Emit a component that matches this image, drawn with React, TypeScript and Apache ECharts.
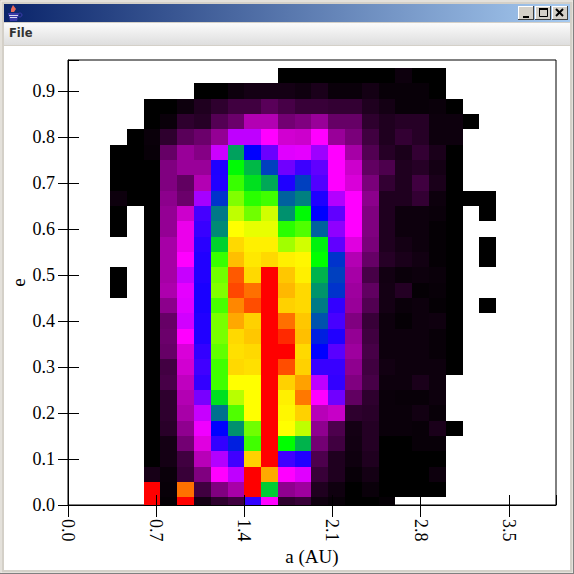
import React, { useEffect, useRef } from "react";
import * as echarts from "echarts";

const N = null;
// Color level per cell: 0 black, 100 magenta, 200 blue, 300 green, 400 yellow, 500 red.
// Columns: a-bin 3..25; rows: e-bin 0..28
const firstColumn = 3;
const binA = 4 / 30;
const binE = 1 / 30;
const xTicks = 0.7;
const yTicks = 0.1;
const xMax = 3.875;
const yMax = 0.967;
const paletteColors = ["#000000", "#ff00ff", "#0000ff", "#00ff00", "#ffff00", "#ff0000"];

const row00 = [N,N,500,2,500,8,18,25,180,100,18,22,6,3,0,0,2,N,N,N,N,N,N];
const row01 = [N,N,500,3,456,25,50,66,500,280,56,62,12,6,0,4,0,0,0,0,N,N,N];
const row02 = [N,N,9,4,22,50,100,125,500,434,100,112,22,12,3,8,0,0,0,5,N,N,N];
const row03 = [N,N,0,8,25,72,130,175,418,500,175,187,30,12,6,12,0,0,0,0,N,N,N];
const row04 = [N,N,0,8,45,88,180,212,325,500,300,270,45,25,7,14,0,0,3,3,N,N,N];
const row05 = [N,N,0,16,56,106,200,257,344,500,400,375,56,30,8,14,4,4,3,10,0,N,N];
const row06 = [N,N,0,18,66,122,244,331,400,500,403,418,72,78,18,16,4,4,7,3,N,N,N];
const row07 = [N,N,0,18,70,153,288,372,400,500,406,453,100,156,38,18,4,3,3,5,N,N,N];
const row08 = [N,N,0,28,75,180,325,400,400,500,418,437,125,180,50,28,5,5,10,5,N,N,N];
const row09 = [N,N,0,26,82,175,325,415,412,500,470,418,178,178,56,25,7,5,5,5,0,N,N];
const row10 = [N,N,0,40,85,180,338,412,415,500,500,415,200,165,62,28,5,5,5,3,0,N,N];
const row11 = [N,N,0,42,100,187,347,415,422,500,484,425,212,187,58,25,5,5,5,3,0,N,N];
const row12 = [N,N,0,40,118,187,347,434,418,500,456,422,232,172,50,22,5,2,5,6,0,N,N];
const row13 = [N,N,0,55,112,190,328,447,470,500,418,415,248,180,60,32,8,4,5,2,0,N,0];
const row14 = [0,N,0,68,110,190,350,472,456,500,428,415,258,220,62,38,8,14,2,3,0,N,N];
const row15 = [0,N,0,65,122,187,344,465,415,500,422,406,270,225,65,28,7,4,5,4,0,N,N];
const row16 = [N,N,0,65,100,187,322,425,409,415,406,403,300,220,70,40,15,10,7,2,0,N,0];
const row17 = [N,N,0,65,92,184,282,415,406,406,363,382,295,162,88,48,12,8,5,2,0,N,0];
const row18 = [0,N,0,58,92,178,254,400,391,391,316,331,238,144,100,50,12,5,5,2,0,N,N];
const row19 = [0,N,0,58,80,173,247,375,344,382,257,298,200,162,100,50,12,5,5,4,0,N,0];
const row20 = [5,0,0,55,42,135,220,350,316,325,238,250,188,130,100,55,12,12,20,5,0,0,0];
const row21 = [0,0,0,50,38,70,187,322,288,266,188,225,168,100,85,48,20,12,25,10,0,N,N];
const row22 = [0,0,0,50,60,60,188,298,272,225,156,176,162,100,80,38,30,12,15,8,0,N,N];
const row23 = [0,0,3,40,60,52,120,263,200,158,112,110,138,100,65,32,15,10,20,10,0,N,N];
const row24 = [N,0,4,18,35,42,58,125,125,100,82,80,100,60,48,25,12,20,15,5,5,N,N];
const row25 = [N,N,0,4,18,15,33,42,70,70,45,50,60,40,40,18,12,15,15,5,5,0,N];
const row26 = [N,N,0,0,5,12,18,25,25,35,28,22,22,20,20,12,8,3,3,4,0,N,N];
const row27 = [N,N,N,N,N,0,0,5,8,8,8,6,10,4,4,8,3,3,3,0,N,N,N];
const row28 = [N,N,N,N,N,N,N,N,N,N,0,0,0,0,0,0,0,5,0,0,N,N,N];

const rows = [
  row00,row01,row02,row03,row04,row05,row06,row07,row08,row09,
  row10,row11,row12,row13,row14,row15,row16,row17,row18,row19,
  row20,row21,row22,row23,row24,row25,row26,row27,row28,
];

const cells: number[][] = [];
rows.forEach((r, j) =>
  r.forEach((v, i) => {
    if (v !== null) cells.push([(i + firstColumn) * binA, j * binE, v as number]);
  })
);

const SERIF = "'Liberation Serif', serif";
const frame = "#d4d0c8";

function chrome() {
  const btn = (x: number, w: number) => [
    { type: "rect", shape: { x, y: 6, width: w, height: 14 }, style: { fill: "#404040" } },
    { type: "rect", shape: { x, y: 6, width: w - 1, height: 13 }, style: { fill: "#ffffff" } },
    { type: "rect", shape: { x: x + 1, y: 7, width: w - 2, height: 12 }, style: { fill: frame } },
  ];
  return [
    { type: "rect", shape: { x: 0, y: 0, width: 574, height: 574 }, style: { fill: frame }, z: -10 },
    { type: "rect", shape: { x: 1, y: 1, width: 572, height: 572 }, style: { fill: "none", stroke: "#f4f2ee", lineWidth: 1 }, z: -9 },
    { type: "line", shape: { x1: 573.5, y1: 0, x2: 573.5, y2: 574 }, style: { stroke: "#808080", lineWidth: 1 }, z: -9 },
    { type: "line", shape: { x1: 0, y1: 573.5, x2: 574, y2: 573.5 }, style: { stroke: "#808080", lineWidth: 1 }, z: -9 },
    {
      type: "rect",
      shape: { x: 4, y: 4, width: 566, height: 18 },
      z: -8,
      style: {
        fill: new echarts.graphic.LinearGradient(0, 0, 1, 0, [
          { offset: 0, color: "#0a246a" },
          { offset: 1, color: "#a6caf0" },
        ]),
      },
    },
    {
      type: "rect",
      shape: { x: 4, y: 23, width: 566, height: 22 },
      z: -8,
      style: {
        fill: new echarts.graphic.LinearGradient(0, 0, 0, 1, [
          { offset: 0, color: "#fbfbfb" },
          { offset: 1, color: "#dedede" },
        ]),
      },
    },
    { type: "rect", shape: { x: 4, y: 46, width: 566, height: 524 }, style: { fill: "#ffffff" }, z: -8 },
    {
      type: "text", x: 9, y: 27, z: 5,
      style: { text: "File", fill: "#333333", font: "bold 11.5px 'DejaVu Sans', sans-serif" },
    },
    // Java cup icon
    { type: "polygon", shape: { points: [[8, 13], [19, 13], [17, 21], [10, 21]] }, style: { fill: "#3a3aa8" }, z: 5 },
    { type: "circle", shape: { cx: 20, cy: 15, r: 2 }, style: { fill: "none", stroke: "#3a3aa8", lineWidth: 1 }, z: 5 },
    { type: "line", shape: { x1: 9, y1: 15.5, x2: 18, y2: 15.5 }, style: { stroke: "#d8d8f0", lineWidth: 1 }, z: 6 },
    { type: "line", shape: { x1: 10, y1: 17.5, x2: 17, y2: 17.5 }, style: { stroke: "#d8d8f0", lineWidth: 1 }, z: 6 },
    { type: "polygon", shape: { points: [[13, 5], [16, 9], [14, 12], [11, 12], [11, 9]] }, style: { fill: "#e86a5a" }, z: 5 },
    // window buttons
    ...btn(518, 16).map((o) => ({ ...o, z: 5 })),
    ...btn(535, 16).map((o) => ({ ...o, z: 5 })),
    ...btn(552, 16).map((o) => ({ ...o, z: 5 })),
    { type: "rect", shape: { x: 523, y: 16, width: 6, height: 2 }, style: { fill: "#000" }, z: 6 },
    { type: "rect", shape: { x: 539.5, y: 8.5, width: 8, height: 8 }, style: { fill: "none", stroke: "#000", lineWidth: 1 }, z: 6 },
    { type: "rect", shape: { x: 539, y: 8, width: 9, height: 2 }, style: { fill: "#000" }, z: 6 },
    { type: "line", shape: { x1: 556, y1: 9, x2: 563, y2: 16 }, style: { stroke: "#000", lineWidth: 2 }, z: 6 },
    { type: "line", shape: { x1: 563, y1: 9, x2: 556, y2: 16 }, style: { stroke: "#000", lineWidth: 2 }, z: 6 },
  ];
}

function renderCell(params: any, api: any) {
  const a = api.value(0);
  const e = api.value(1);
  const p0 = api.coord([a - binA / 2, e + binE / 2]);
  const p1 = api.coord([a + binA / 2, e - binE / 2]);
  const x0 = Math.round(p0[0]);
  const y0 = Math.round(p0[1]);
  const shape = echarts.graphic.clipRectByRect(
    { x: x0, y: y0, width: Math.round(p1[0]) - x0, height: Math.round(p1[1]) - y0 },
    { x: params.coordSys.x, y: params.coordSys.y, width: params.coordSys.width, height: params.coordSys.height }
  );
  return shape && { type: "rect", shape, style: { fill: api.visual("color"), stroke: "none" } };
}

const axisLine = { show: true, onZero: false, lineStyle: { color: "#000", width: 1 } };
const tickLine = { color: "#000", width: 1 };
const labelFont = { color: "#000", fontFamily: SERIF, fontSize: 19 };

export default function App() {
  const ref = useRef<HTMLDivElement>(null);
  useEffect(() => {
    document.body.style.margin = "0";
    const chart = echarts.init(ref.current!, undefined, { renderer: "svg" });
    chart.setOption({
      animation: false,
      backgroundColor: "transparent",
      graphic: { elements: chrome() },
      grid: {
        show: true, left: 68, top: 60, width: 488, height: 445,
        borderColor: "#000", borderWidth: 1, backgroundColor: "#fff",
        containLabel: false, outerBoundsMode: "none",
      },
      visualMap: {
        show: false, type: "continuous", min: 0, max: 500, dimension: 2,
        inRange: { color: paletteColors },
      },
      xAxis: [
        {
          type: "value", min: 0, max: xMax, interval: xTicks, z: 10,
          axisLine, splitLine: { show: false },
          axisTick: { show: true, length: 12, lineStyle: tickLine },
          axisLabel: {
            ...labelFont, fontSize: 18, margin: 14, rotate: -90, showMaxLabel: false,
            formatter: (v: number) => v.toFixed(1),
          },
          name: "a (AU)", nameLocation: "middle", nameGap: 42, nameMoveOverlap: false,
          nameTextStyle: labelFont,
        },
        {
          type: "value", min: 0, max: xMax, interval: xTicks, z: 10, position: "bottom",
          axisLine: { show: false }, splitLine: { show: false },
          axisTick: { show: true, inside: true, length: 10, lineStyle: tickLine },
          axisLabel: { show: false },
        },
      ],
      yAxis: [
        {
          type: "value", min: 0, max: yMax, interval: yTicks, z: 10,
          axisLine, splitLine: { show: false },
          axisTick: { show: true, length: 10, lineStyle: tickLine },
          axisLabel: {
            ...labelFont, fontSize: 18, margin: 13, showMaxLabel: false,
            formatter: (v: number) => v.toFixed(1),
          },
          name: "e", nameLocation: "middle", nameGap: 40, nameMoveOverlap: false,
          nameTextStyle: labelFont,
        },
        {
          type: "value", min: 0, max: yMax, interval: yTicks, z: 10, position: "left",
          axisLine: { show: false }, splitLine: { show: false },
          axisTick: { show: true, inside: true, length: 11, lineStyle: tickLine },
          axisLabel: { show: false },
        },
      ],
      series: [
        {
          type: "custom", coordinateSystem: "cartesian2d", renderItem: renderCell,
          encode: { x: 0, y: 1 }, data: cells, z: 2, clip: true, silent: true,
        },
      ],
    });
    return () => chart.dispose();
  }, []);
  return <div ref={ref} style={{ width: 574, height: 574 }} />;
}
